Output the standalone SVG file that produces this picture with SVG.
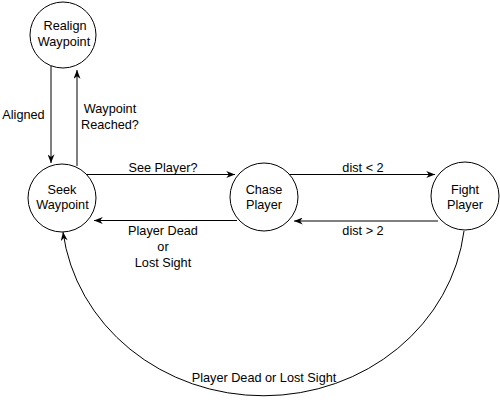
<svg xmlns="http://www.w3.org/2000/svg" width="500" height="406" viewBox="0 0 500 406">
<style>
.node{fill:#fff;stroke:#000;stroke-width:1}
.edge{fill:none;stroke:#000;stroke-width:1;marker-end:url(#arr)}
text{font-family:"Liberation Sans",Arial,sans-serif;font-size:12.7px;fill:#000;text-anchor:middle}
</style>
<defs>
<marker id="arr" viewBox="0 0 10 8" refX="10" refY="4" markerWidth="10" markerHeight="7" orient="auto" markerUnits="userSpaceOnUse">
<path d="M0,0 L10,4 L0,8 L3,4 z" fill="#000"/>
</marker>
</defs>
<rect width="500" height="406" fill="#fff"/>
<g id="connectors">
<path class="edge" d="M51,66 L51,163"/>
<path class="edge" d="M77,166 L77,70"/>
<path class="edge" d="M87,174.5 L235,174.5"/>
<path class="edge" d="M237,220.5 L94,220.5"/>
<path class="edge" d="M288,174.5 L435,174.5"/>
<path class="edge" d="M438,221 L294,221"/>
<path class="edge" d="M464,231 A202 187 0 0 1 63,232"/>
<text x="23.5" y="119">Aligned</text>
<text x="110" y="113">Waypoint</text>
<text x="110" y="128.5">Reached?</text>
<text x="163" y="172">See Player?</text>
<text x="163" y="235">Player Dead</text>
<text x="163" y="251">or</text>
<text x="163" y="267">Lost Sight</text>
<text x="363" y="172">dist &lt; 2</text>
<text x="363" y="235">dist &gt; 2</text>
<text x="264" y="382">Player Dead or Lost Sight</text>
</g>
<g id="realign">
<circle class="node" cx="63" cy="35" r="33"/>
<text x="65" y="30">Realign</text>
<text x="64" y="46">Waypoint</text>
</g>
<g id="seek">
<circle class="node" cx="62" cy="198" r="34"/>
<text x="62" y="194">Seek</text>
<text x="62.5" y="209">Waypoint</text>
</g>
<g id="chase">
<circle class="node" cx="264" cy="197" r="34"/>
<text x="264" y="194">Chase</text>
<text x="264" y="209">Player</text>
</g>
<g id="fight">
<circle class="node" cx="465" cy="196" r="34"/>
<text x="465" y="194">Fight</text>
<text x="465" y="209">Player</text>
</g>
</svg>
